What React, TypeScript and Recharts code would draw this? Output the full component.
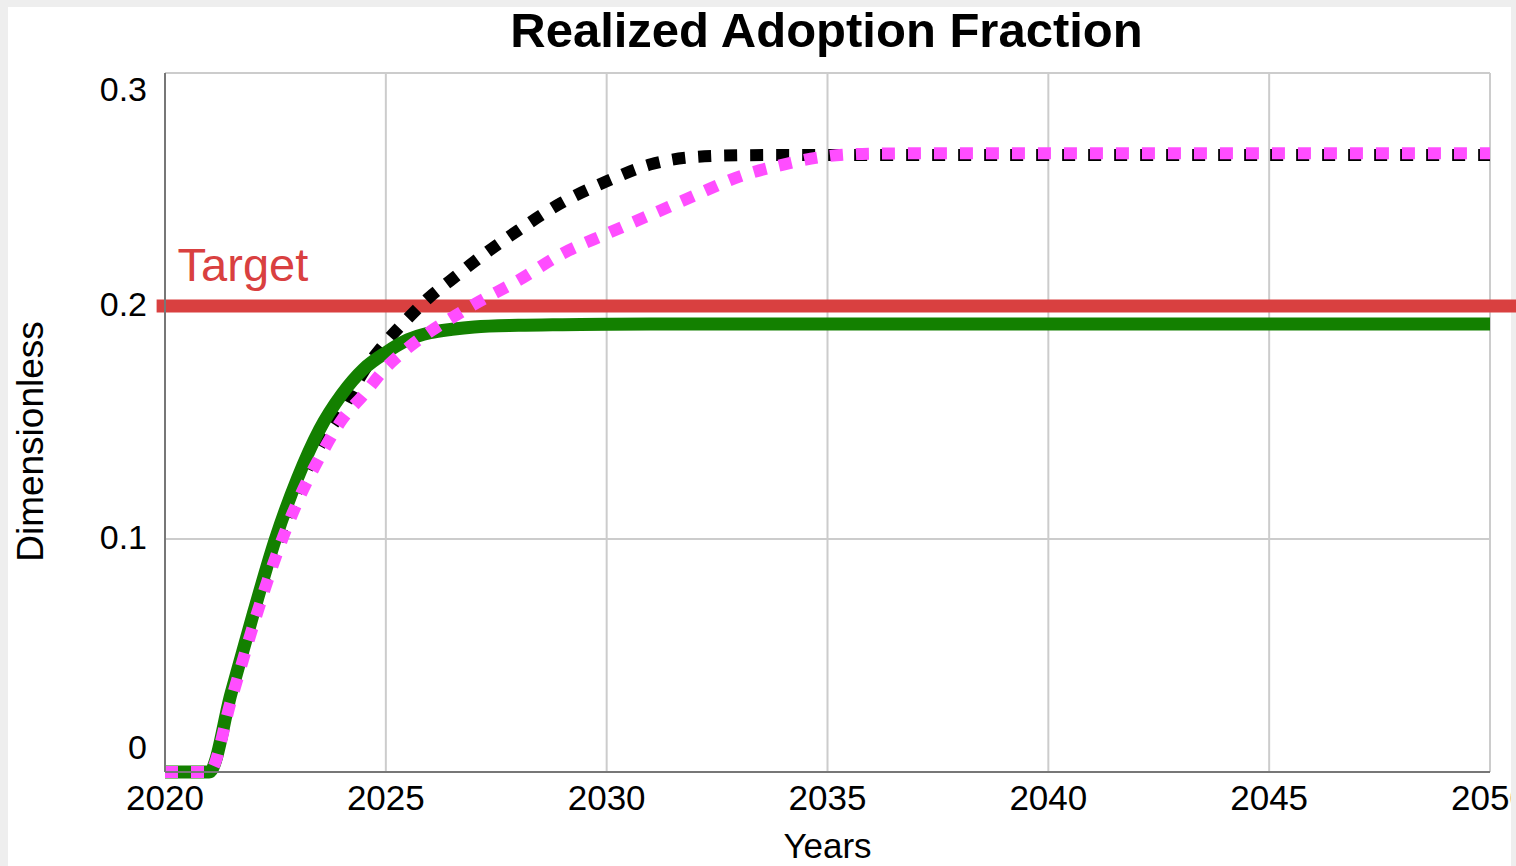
import React from 'react';
import { LineChart, Line, XAxis, YAxis, CartesianGrid, ReferenceLine, Label } from 'recharts';

const years = [2020, 2021, 2021.5, 2022, 2022.5, 2023, 2023.5, 2024, 2024.5, 2025, 2025.5, 2026, 2026.5, 2027, 2028, 2029, 2030, 2031, 2032, 2033, 2034, 2035, 2036, 2038, 2040, 2045, 2050];
const blackRun = [0, 0, 0.033, 0.066, 0.096, 0.121, 0.14, 0.155, 0.172, 0.1845, 0.1947, 0.204, 0.2115, 0.219, 0.2325, 0.2445, 0.2535, 0.2608, 0.264, 0.2647, 0.2648, 0.2648, 0.2648, 0.2648, 0.2648, 0.2648, 0.2648];
const greenRun = [0, 0, 0.034, 0.068, 0.1, 0.126, 0.147, 0.162, 0.173, 0.18, 0.1855, 0.1885, 0.19, 0.191, 0.1917, 0.192, 0.1922, 0.1923, 0.1923, 0.1923, 0.1923, 0.1923, 0.1923, 0.1923, 0.1923, 0.1923, 0.1923];
const pinkRun = [0, 0, 0.031, 0.063, 0.092, 0.116, 0.135, 0.151, 0.162, 0.1735, 0.182, 0.189, 0.195, 0.2007, 0.211, 0.2225, 0.231, 0.2392, 0.2475, 0.2555, 0.2607, 0.2643, 0.2654, 0.2656, 0.2656, 0.2656, 0.2656];
const xTicks = [2020, 2025, 2030, 2035, 2040, 2045, 2050];
const yTicks = [0, 0.1, 0.2, 0.3];
const targetValue = 0.2;
const targetLabel = 'Target';
const titleText = 'Realized Adoption Fraction';
const xLabel = 'Years';
const yLabel = 'Dimensionless';

const data = years.map((t, i) => ({ t, black: blackRun[i], green: greenRun[i], pink: pinkRun[i] }));

const FONT = '"Liberation Sans", Arial, Helvetica, sans-serif';

const YTick = (props: any) => {
  const { x, y, payload } = props;
  const v = payload.value;
  let dy = 10;
  if (v >= 0.3 - 1e-9) dy = 28;
  else if (v <= 1e-9) dy = -13;
  const txt = v === 0 ? '0' : String(Math.round(v * 10) / 10);
  return (
    <text x={x - 18} y={y + dy} textAnchor="end" fontSize={34} fill="#000" fontFamily={FONT}>
      {txt}
    </text>
  );
};

const XTick = (props: any) => {
  const { x, y, payload, index } = props;
  const id = `xclip${index}`;
  return (
    <g>
      <defs>
        <clipPath id={id}>
          <rect x={0} y={0} width={1511} height={866} />
        </clipPath>
      </defs>
      <text x={x} y={y + 38} textAnchor="middle" fontSize={35} fill="#000" fontFamily={FONT} clipPath={`url(#${id})`}>
        {payload.value}
      </text>
    </g>
  );
};

export default function App() {
  return (
    <div style={{ position: 'absolute', left: 0, top: 0, width: 1516, height: 866, background: '#eeeeee', overflow: 'hidden' }}>
      <div style={{ position: 'absolute', left: 8, top: 7, width: 1503, height: 859, background: '#ffffff' }} />
      <div
        style={{
          position: 'absolute',
          left: 0,
          top: 6,
          width: 1653,
          textAlign: 'center',
          fontFamily: FONT,
          fontWeight: 'bold',
          fontSize: 49,
          lineHeight: '49px',
          color: '#000',
        }}
      >
        {titleText}
      </div>
      <div style={{ position: 'absolute', left: 0, top: 0 }}>
        <LineChart width={1516} height={866} data={data} margin={{ top: 73, right: 26, left: 0, bottom: 0 }}>
          <CartesianGrid stroke="#cccccc" strokeWidth={2} horizontalValues={yTicks} verticalValues={xTicks} />
          <XAxis
            dataKey="t"
            type="number"
            domain={[2020, 2050]}
            ticks={xTicks}
            height={94}
            tickSize={0}
            tickMargin={0}
            tickLine={false}
            axisLine={{ stroke: '#777777', strokeWidth: 2 }}
            tick={<XTick />}
            interval={0}
          >
            <Label
              content={(p: any) => {
                const vb = p.viewBox;
                return (
                  <text x={vb.x + vb.width / 2} y={vb.y + 86} textAnchor="middle" fontSize={35} fontFamily={FONT} fill="#000">
                    {xLabel}
                  </text>
                );
              }}
            />
          </XAxis>
          <XAxis xAxisId="top" orientation="top" dataKey="t" type="number" domain={[2020, 2050]} height={0} tick={false} tickLine={false} axisLine={{ stroke: '#777777', strokeWidth: 2 }} />
          <YAxis
            type="number"
            domain={[0, 0.3]}
            ticks={yTicks}
            width={165}
            tickSize={0}
            tickMargin={0}
            tickLine={false}
            axisLine={{ stroke: '#777777', strokeWidth: 2 }}
            tick={<YTick />}
            interval={0}
          >
            <Label
              content={(p: any) => {
                const vb = p.viewBox;
                const cx = 43;
                const cy = vb.y + vb.height / 2 + 19;
                return (
                  <text x={cx} y={cy} transform={`rotate(-90 ${cx} ${cy})`} textAnchor="middle" fontSize={37} fontFamily={FONT} fill="#000">
                    {yLabel}
                  </text>
                );
              }}
            />
          </YAxis>
          <YAxis yAxisId="right" orientation="right" type="number" domain={[0, 0.3]} width={0} tick={false} tickLine={false} axisLine={{ stroke: '#777777', strokeWidth: 2 }} />
          <ReferenceLine
            segment={[{ x: 2019.81, y: targetValue }, { x: 2050.6, y: targetValue }]}
            ifOverflow="visible"
            stroke="#d94040"
            strokeWidth={13}
          >
            <Label
              content={(p: any) => {
                const vb = p.viewBox || {};
                const x0 = (vb.x ?? 157) + 21;
                const y0 = (vb.y ?? 305) - 25;
                return (
                  <text x={x0} y={y0} fontSize={47} fontFamily={FONT} fill="#d94040">
                    {targetLabel}
                  </text>
                );
              }}
            />
          </ReferenceLine>
          <Line dataKey="black" type="monotone" stroke="#000000" strokeWidth={12} strokeDasharray="13 13" dot={false} activeDot={false} isAnimationActive={false} />
          <Line dataKey="green" type="monotone" stroke="#138000" strokeWidth={13} dot={false} activeDot={false} isAnimationActive={false} strokeLinejoin="round" />
          <Line dataKey="pink" type="monotone" stroke="#ff4dff" strokeWidth={12} strokeDasharray="13 13" dot={false} activeDot={false} isAnimationActive={false} />
        </LineChart>
      </div>
    </div>
  );
}
